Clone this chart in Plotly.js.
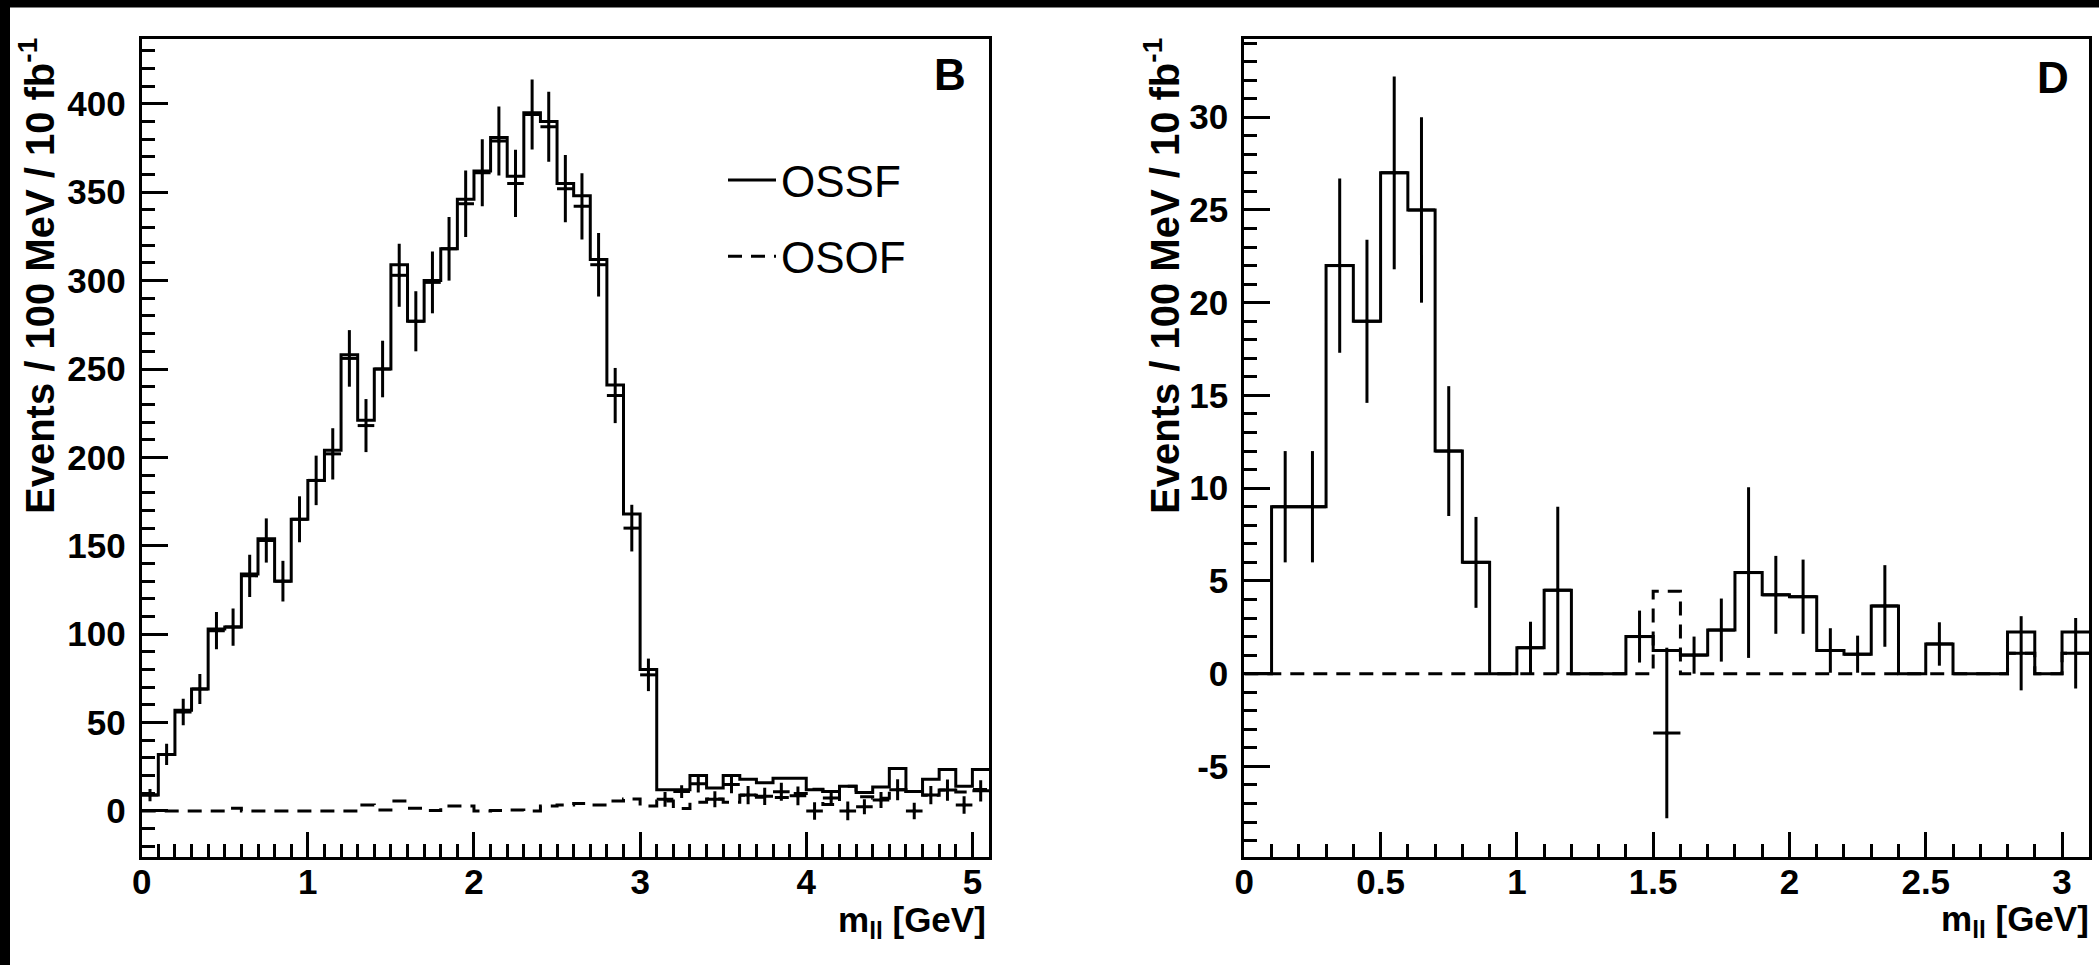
<!DOCTYPE html>
<html><head><meta charset="utf-8">
<script src="https://cdn.plot.ly/plotly-3.0.1.min.js"></script>
<style>html,body{margin:0;padding:0;background:#fff;overflow:hidden;} #chart{width:2099px;height:965px;}</style>
</head><body><div id="chart"></div>
<script>
// ---------------- data ----------------
const binWidth = 0.1;

// Panel B (0 - 5.1 GeV, 51 bins of 100 MeV)
const ossfB = [9, 32, 57, 69, 103, 104, 134, 154, 130, 165,
               187, 204, 258, 221, 250, 309, 277, 300, 318, 346,
               362, 381, 359, 395, 390, 355, 348, 312, 241, 168,
               80, 12, 12, 20, 13, 20, 18, 16, 18.5, 18.5,
               12, 11, 14, 10.5, 13.5, 24, 11, 18, 23.5, 14, 23.5];
const osofB = [0, 0, 0, 0, 0, 1.5, 0, 0, 0, 0,
               0, 0, 0, 3.4, 0.6, 5.7, 1.5, 0.3, 2.8, 2.8,
               0, 0.3, 0.5, 0, 2.8, 3.4, 4.3, 3.4, 5.7, 6.8,
               2.8, 5.7, 1.4, 5, 6.8, 5, 8.9, 7.7, 7.6, 9.9,
               12.3, 3.6, 14, 8, 7.2, 12, 11, 8.9, 11.8, 10.7, 12.2];
const diffB = [9, 32, 56, 69, 102, 104, 133, 153, 130, 165,
               187, 202, 256, 218, 250, 303, 277, 299, 318, 343.5,
               361, 379, 355, 394, 387, 352, 342, 309, 235, 160,
               77, 6.6, 11, 15.4, 6.6, 15, 9, 8.3, 10.9, 8.6,
               0, 7.3, 0, 2.4, 6.2, 12, 0, 9, 11.8, 3.4, 11.4];
const errB  = [3.5, 6, 7.5, 8.5, 10.5, 10.5, 12, 12.5, 11.5, 13,
               14, 14.5, 16, 15, 16, 17.8, 17, 17.5, 18, 18.8,
               19, 19.5, 19, 19.8, 19.8, 19, 18.8, 18, 15.6, 13.2,
               9.2, 4.2, 3.6, 5, 4.5, 5, 5.2, 4.9, 5.1, 5.3,
               4.9, 3.8, 5.3, 4.3, 4.5, 6, 4.7, 5.2, 6, 5, 6];

// Panel D (0 - 3.1 GeV, 31 bins of 100 MeV)
const ossfD = [0, 9, 9, 22, 19, 27, 25, 12, 6, 0,
               1.4, 4.5, 0, 0, 2.0, 1.25, 1.0, 2.35, 5.45, 4.25,
               4.15, 1.25, 1.05, 3.65, 0, 1.6, 0, 0, 2.25, 0, 2.25];
const osofD = [0, 0, 0, 0, 0, 0, 0, 0, 0, 0,
               0, 0, 0, 0, 0, 4.45, 0, 0, 0, 0,
               0, 0, 0, 0, 0, 0, 0, 0, 1.1, 0, 1.1];
const diffD = [null, 9, 9, 22, 19, 27, 25, 12, 6, null,
               1.4, 4.5, null, null, 2.0, -3.2, 1.0, 2.35, 5.45, 4.25,
               4.15, 1.25, 1.05, 3.65, null, 1.6, null, null, 1.1, null, 1.1];
const errD  = [0, 3, 3, 4.7, 4.4, 5.2, 5, 3.5, 2.45, 0,
               1.4, 4.5, 0, 0, 1.4, 4.6, 1.0, 1.7, 4.6, 2.1,
               2.0, 1.2, 1.0, 2.2, 0, 1.17, 0, 0, 2.0, 0, 1.9];

// tick labels
const yTickValsB = [0, 50, 100, 150, 200, 250, 300, 350, 400];
const yTickTextB = ['0', '50', '100', '150', '200', '250', '300', '350', '400'];
const yTickValsD = [-5, 0, 5, 10, 15, 20, 25, 30];
const yTickTextD = ['-5', '0', '5', '10', '15', '20', '25', '30'];
const xTickValsB = [0, 1, 2, 3, 4, 5];
const xTickTextB = ['0', '1', '2', '3', '4', '5'];
const xTickValsD = [0, 0.5, 1, 1.5, 2, 2.5, 3];
const xTickTextD = ['0', '0.5', '1', '1.5', '2', '2.5', '3'];

// ---------------- helpers ----------------
const W = 2099, H = 965;
const FONT = 'Liberation Sans, Arial, Helvetica, sans-serif';
function edges(n) { return Array.from({length: n + 1}, (_, i) => +(i * binWidth).toFixed(2)); }
function centers(n) { return Array.from({length: n}, (_, i) => +((i + 0.5) * binWidth).toFixed(3)); }
function stepY(v) { return v.concat([v[v.length - 1]]); }
const px = x => x / W;
const py = y => 1 - y / H;

function histTrace(vals, xa, ya, dash, name, show, rank, group) {
  return {
    type: 'scatter', mode: 'lines', x: edges(vals.length), y: stepY(vals),
    xaxis: xa, yaxis: ya, name: name, showlegend: show, legendgroup: group, legendrank: rank,
    line: {shape: 'hv', color: 'black', width: 3, dash: dash},
    hoverinfo: 'skip'
  };
}
function pointTrace(vals, errs, xa, ya) {
  return {
    type: 'scatter', mode: 'markers', x: centers(vals.length), y: vals,
    xaxis: xa, yaxis: ya, showlegend: false,
    marker: {size: 3, color: 'black', symbol: 'square'},
    error_y: {type: 'data', array: errs, visible: true, width: 0, thickness: 3, color: 'black'},
    error_x: {type: 'constant', value: binWidth / 2, visible: true, width: 0, thickness: 3, color: 'black'},
    hoverinfo: 'skip'
  };
}

const traces = [
  histTrace(osofB, 'x', 'y', '14px,9px', 'OSOF', true, 2, 'g2'),
  histTrace(ossfB, 'x', 'y', 'solid', 'OSSF', true, 1, 'g1'),
  pointTrace(diffB, errB, 'x', 'y'),
  histTrace(osofD, 'x2', 'y2', '14px,9px', 'OSOF', false, 2, 'g2'),
  histTrace(ossfD, 'x2', 'y2', 'solid', 'OSSF', false, 1, 'g1'),
  pointTrace(diffD, errD, 'x2', 'y2')
];

const tickFont = {family: FONT, size: 35, color: 'black', weight: 'bold'};
function axisBase(standoff) {
  return {
    showline: true, mirror: true, linecolor: 'black', linewidth: 3,
    ticks: 'inside', tickcolor: 'black', tickwidth: 3,
    showgrid: false, zeroline: false, tickfont: tickFont, tickmode: 'array',
    ticklabelstandoff: standoff, fixedrange: true
  };
}
const yDomain = [py(857.3), py(39.3)];

const layout = {
  width: W, height: H,
  margin: {l: 0, r: 0, t: 0, b: 0},
  paper_bgcolor: 'white', plot_bgcolor: 'white',
  showlegend: true,
  legend: {
    x: px(723), y: py(145), xanchor: 'left', yanchor: 'top',
    font: {family: FONT, size: 44, color: 'black'},
    bgcolor: 'rgba(0,0,0,0)', borderwidth: 0, tracegroupgap: 16, itemwidth: 48
  },
  xaxis: Object.assign(axisBase(-8), {
    domain: [px(141.7), px(989)], range: [0, 5.1], anchor: 'y',
    tickvals: xTickValsB, ticktext: xTickTextB, ticklen: 25,
    minor: {dtick: 0.1, tick0: 0, ticklen: 13, tickwidth: 3, tickcolor: 'black', ticks: 'inside'}
  }),
  yaxis: Object.assign(axisBase(6), {
    domain: yDomain, range: [-26.2, 436.5], anchor: 'x',
    tickvals: yTickValsB, ticktext: yTickTextB, ticklen: 26,
    minor: {dtick: 10, tick0: 0, ticklen: 13, tickwidth: 3, tickcolor: 'black', ticks: 'inside'}
  }),
  xaxis2: Object.assign(axisBase(-8), {
    domain: [px(1244.3), px(2089.3)], range: [0, 3.1], anchor: 'y2',
    tickvals: xTickValsD, ticktext: xTickTextD, ticklen: 25,
    minor: {dtick: 0.1, tick0: 0, ticklen: 13, tickwidth: 3, tickcolor: 'black', ticks: 'inside'}
  }),
  yaxis2: Object.assign(axisBase(6), {
    domain: yDomain, range: [-9.9, 34.2], anchor: 'x2',
    tickvals: yTickValsD, ticktext: yTickTextD, ticklen: 26,
    minor: {dtick: 1, tick0: 0, ticklen: 13, tickwidth: 3, tickcolor: 'black', ticks: 'inside'}
  }),
  annotations: [
    {text: 'Events / 100 MeV / 10 fb<sup>-1</sup>', textangle: -90, showarrow: false,
     xref: 'paper', yref: 'paper', x: px(37), y: py(36), xanchor: 'center', yanchor: 'top',
     font: {family: FONT, size: 40, color: 'black', weight: 'bold'}},
    {text: 'Events / 100 MeV / 10 fb<sup>-1</sup>', textangle: -90, showarrow: false,
     xref: 'paper', yref: 'paper', x: px(1162), y: py(36), xanchor: 'center', yanchor: 'top',
     font: {family: FONT, size: 40, color: 'black', weight: 'bold'}},
    {text: 'm<sub>ll</sub> [GeV]', showarrow: false,
     xref: 'paper', yref: 'paper', x: px(988), y: py(922), xanchor: 'right', yanchor: 'middle',
     font: {family: FONT, size: 35, color: 'black', weight: 'bold'}},
    {text: 'm<sub>ll</sub> [GeV]', showarrow: false,
     xref: 'paper', yref: 'paper', x: px(2091), y: py(921), xanchor: 'right', yanchor: 'middle',
     font: {family: FONT, size: 35, color: 'black', weight: 'bold'}},
    {text: 'B', showarrow: false,
     xref: 'paper', yref: 'paper', x: px(968), y: py(74), xanchor: 'right', yanchor: 'middle',
     font: {family: FONT, size: 44, color: 'black', weight: 'bold'}},
    {text: 'D', showarrow: false,
     xref: 'paper', yref: 'paper', x: px(2071), y: py(78), xanchor: 'right', yanchor: 'middle',
     font: {family: FONT, size: 44, color: 'black', weight: 'bold'}}
  ],
  shapes: [
    {type: 'rect', xref: 'paper', yref: 'paper', x0: 0, x1: 1, y0: py(7.5), y1: 1,
     fillcolor: 'black', line: {width: 0}},
    {type: 'rect', xref: 'paper', yref: 'paper', x0: 0, x1: px(10), y0: 0, y1: 1,
     fillcolor: 'black', line: {width: 0}}
  ]
};

Plotly.newPlot('chart', traces, layout, {displayModeBar: false, staticPlot: true});
</script></body></html>
